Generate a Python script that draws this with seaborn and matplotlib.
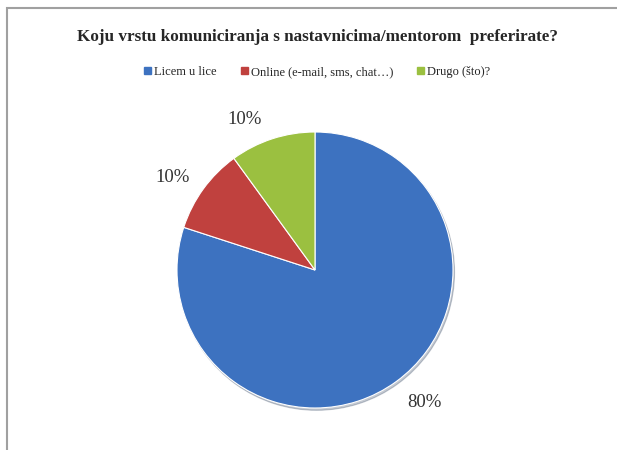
import matplotlib
matplotlib.use("Agg")
import matplotlib.pyplot as plt
import numpy as np
import seaborn as sns
from matplotlib.patches import Rectangle

sns.set_theme(style="white")
plt.rcParams['font.family'] = ['Liberation Serif', 'DejaVu Serif']

title = "Koju vrstu komuniciranja s nastavnicima/mentorom  preferirate?"
labels = ["Licem u lice", "Online (e-mail, sms, chat…)", "Drugo (što)?"]
values = [80, 10, 10]
colors = ["#3d72c0", "#c0413e", "#9bc040"]

fig = plt.figure(figsize=(6.17, 4.5), dpi=100)

# grey frame like the exported chart area
fig.patches.append(Rectangle((7 / 617, -0.1), 1.2, 1.1 - 8 / 450, transform=fig.transFigure,
                             fill=False, edgecolor="#a0a0a0", linewidth=1.5))

fig.text(0.515, 1 - 37 / 450, title, ha="center", va="center", fontsize=12.3, fontweight="bold")

ax = fig.add_axes([(315 - 138) / 617, (450 - 408) / 450, 276 / 617, 276 / 450])
wedges, texts, autotexts = ax.pie(values, colors=colors, startangle=90, counterclock=False,
                                  autopct="%d%%", pctdistance=1.23,
                                  wedgeprops={'linewidth': 0.8, 'edgecolor': 'white'},
                                  shadow={'ox': 0.008, 'oy': -0.012, 'shade': 0.6, 'alpha': 0.25},
                                  textprops={'fontsize': 13.5, 'color': '#333333'})
ax.set_xlim(-1, 1)
ax.set_ylim(-1, 1)
ax.set_aspect("equal")

# excel put the labels a little counter-clockwise of the slice middles
nudge = [3.5, 3, 7]
scale = [1.01, 1.0, 0.98]
for t, d, s in zip(autotexts, nudge, scale):
    x, y = t.get_position()
    a = np.deg2rad(d)
    t.set_position((s * (x * np.cos(a) - y * np.sin(a)), s * (x * np.sin(a) + y * np.cos(a))))

handles = [Rectangle((0, 0), 1, 1, color=c) for c in colors]
fig.legend(handles, labels, loc="center", bbox_to_anchor=(0.514, 1 - 72 / 450), ncol=3,
           frameon=False, fontsize=9.0, handlelength=0.55, handleheight=0.55,
           handletextpad=0.25, columnspacing=1.9)

fig.savefig("out.png", dpi=100)
